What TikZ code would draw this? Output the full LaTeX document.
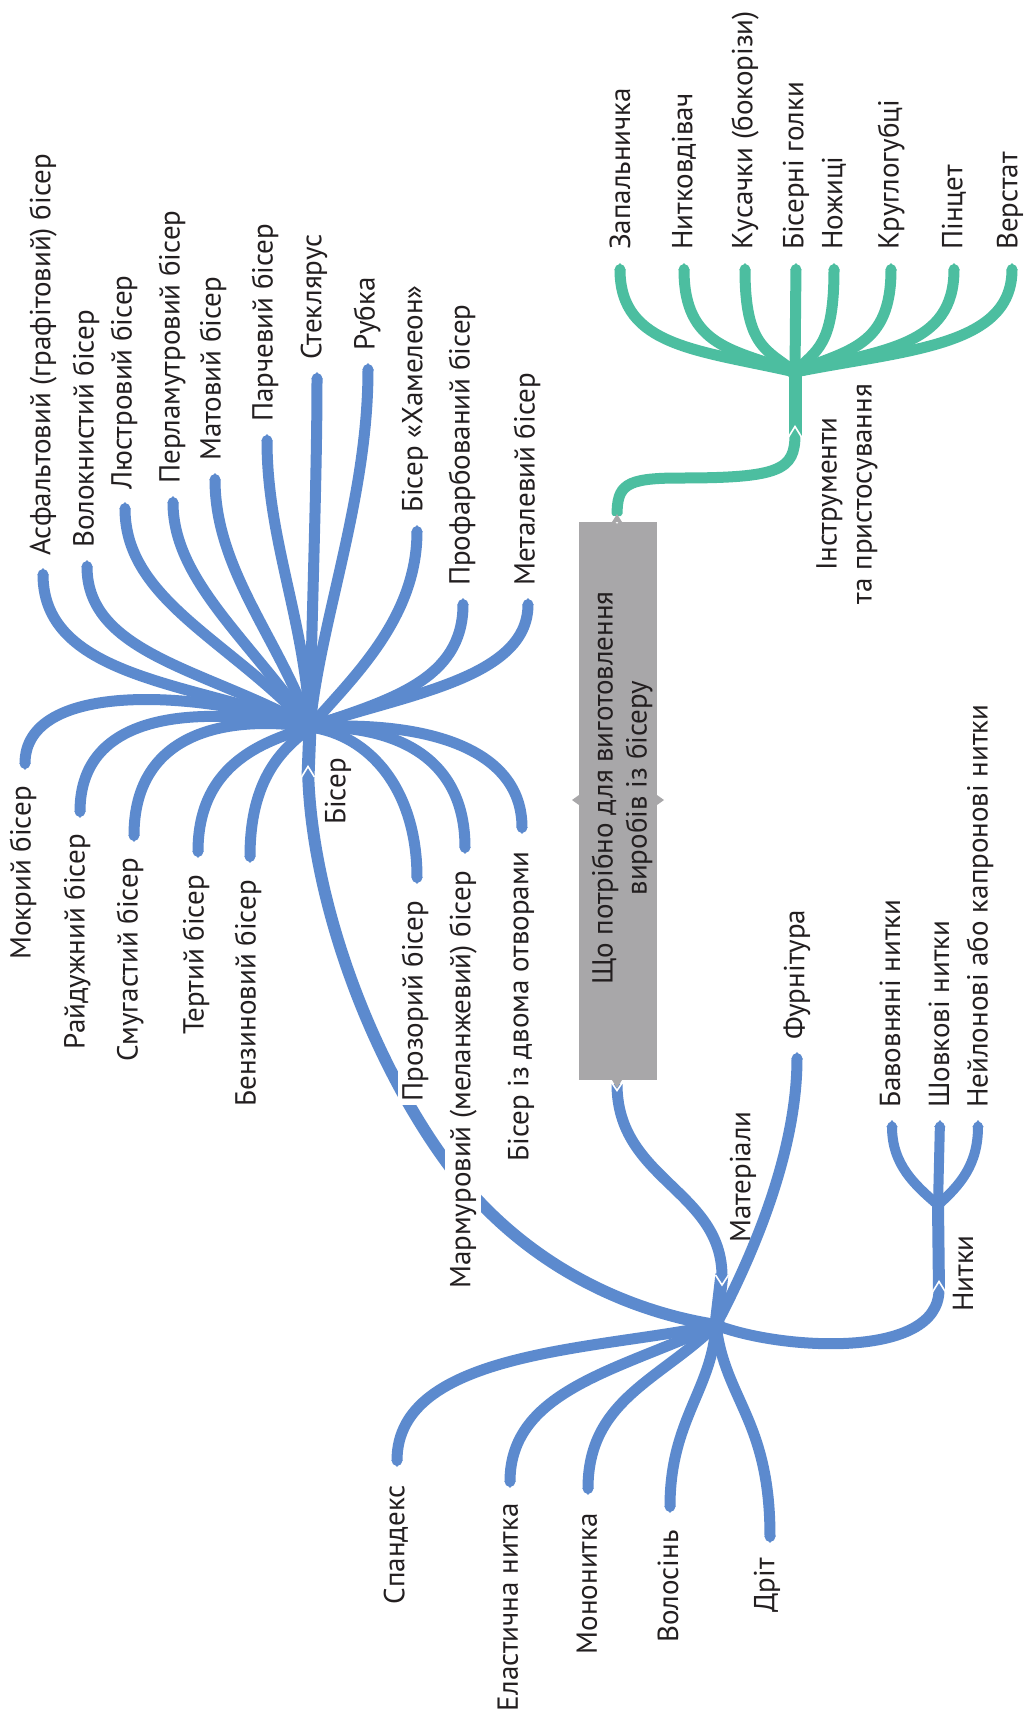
\documentclass[tikz,border=0pt]{standalone}
\usepackage{fontspec}
\setmainfont{PT Sans}
\usetikzlibrary{arrows.meta}
\definecolor{mblue}{RGB}{92,138,206}
\definecolor{mteal}{RGB}{76,190,160}
\definecolor{mgray}{RGB}{168,167,169}
\definecolor{mtxt}{RGB}{35,31,32}
\begin{document}
\begin{tikzpicture}[x=1pt,y=-1pt,
  font=\fontsize{29}{35}\selectfont, text=mtxt,
  bb/.style={draw=mblue, line width=11pt, line cap=round, -{Triangle[length=7pt,width=11pt]}},
  tb/.style={draw=mteal, line width=11pt, line cap=round, -{Triangle[length=7pt,width=11pt]}},
  btrunk/.style={draw=mblue, line width=13pt},
  ttrunk/.style={draw=mteal, line width=13pt},
  labu/.style={rotate=90, anchor=west, inner sep=0pt},
  labd/.style={rotate=90, anchor=east, inner sep=0pt},
  labw/.style={rotate=90, anchor=east, inner sep=4pt, fill=white},
  notch/.style={draw=white, line width=1.6pt},
  gtip/.style={fill=mgray}
]
\fill[white] (0,0) rectangle (1028,1711);
\useasboundingbox (0,0) rectangle (1028,1711);

% ---------- central box ----------
\node[fill=mgray, rotate=90, minimum width=558pt, minimum height=78pt, inner sep=0pt] (box) at (618,801) {};
\node[rotate=90, align=center, inner sep=0pt, font=\fontsize{29}{34}\selectfont] (boxtxt) at (622,788)
  {Що потрібно для виготовлення\\виробів із бісеру};
\fill[gtip] (579,795) -- (572,800) -- (579,805) -- cycle;
\fill[gtip] (657,795) -- (664,800) -- (657,805) -- cycle;
\coordinate (boxT) at (617,516);
\coordinate (boxB) at (617,1084);

% ---------- tools (teal) ----------
\coordinate (T) at (795,372);
\coordinate (TN) at (795,428);
\draw[ttrunk] (795,436) -- (T);
\fill[mteal] (T) circle (8pt);
\draw[tb, line cap=butt] (boxT) .. controls (617,485) and (625,478) .. (680,478) .. controls (780,478) and (795,470) .. (TN);
\draw[notch] (788.5,437) -- (795,426.5) -- (801.5,437);
\draw[notch] (610.5,514) -- (617,522.5) -- (623.5,514);
\fill[gtip] (612,522) -- (617,514) -- (622,522) -- cycle;

\coordinate (t1) at (620,263);
\coordinate (t2) at (684,263);
\coordinate (t3) at (745,263);
\coordinate (t4) at (796,263);
\coordinate (t5) at (834,263);
\coordinate (t6) at (891,263);
\coordinate (t7) at (954,263);
\coordinate (t8) at (1012,263);
\draw[tb] (T) .. controls (699,350) and (620,347) .. (t1);
\draw[tb] (T) .. controls (734,350) and (684,347) .. (t2);
\draw[tb] (T) .. controls (767,350) and (745,347) .. (t3);
\draw[tb] (T) -- (t4);
\draw[tb] (T) .. controls (816,350) and (834,347) .. (t5);
\draw[tb] (T) .. controls (848,350) and (891,347) .. (t6);
\draw[tb] (T) .. controls (882,350) and (954,347) .. (t7);
\draw[tb] (T) .. controls (905,350) and (1012,347) .. (t8);
\node[labu] (lt1) at (620,250) {Запальничка};
\node[labu] (lt2) at (684,250) {Нитковдівач};
\node[labu] (lt3) at (745,250) {Кусачки (бокорізи)};
\node[labu] (lt4) at (796,250) {Бісерні голки};
\node[labu] (lt5) at (834,250) {Ножиці};
\node[labu] (lt6) at (891,250) {Круглогубці};
\node[labu] (lt7) at (954,250) {Пінцет};
\node[labu] (lt8) at (1010,250) {Верстат};
\node[rotate=90, align=center, inner sep=0pt] (ltools) at (847,494) {Інструменти\\та пристосування};

% ---------- materials hub ----------
\coordinate (MH) at (716,1325);
\coordinate (MN) at (722,1283);
\draw[btrunk] (MH) -- (722,1274);
\fill[mblue] (MH) circle (9pt);
\draw[bb, line cap=butt] (boxB) .. controls (617,1180) and (722,1190) .. (MN);
\draw[notch] (715.5,1275) -- (722,1285) -- (728.5,1275);
\draw[notch] (610.5,1081) -- (617,1090.5) -- (623.5,1081);
\fill[gtip] (612,1080) -- (617,1088) -- (622,1080) -- cycle;
\node[labu] (lmat) at (743,1243) {Матеріали};

\coordinate (mf) at (797,1052);
\draw[bb] (MH) .. controls (745,1270) and (797,1160) .. (mf);
\node[labu] (lfur) at (797,1040) {Фурнітура};

\coordinate (m1) at (397,1467);
\coordinate (m2) at (510,1488);
\coordinate (m3) at (588,1495);
\coordinate (m4) at (670,1513);
\coordinate (m5) at (770,1543);
\draw[bb] (MH) .. controls (600,1350) and (397,1350) .. (m1);
\draw[bb] (MH) .. controls (620,1370) and (510,1390) .. (m2);
\draw[bb] (MH) .. controls (660,1380) and (588,1400) .. (m3);
\draw[bb] (MH) .. controls (712,1390) and (670,1420) .. (m4);
\draw[bb] (MH) .. controls (725,1400) and (770,1420) .. (m5);
\node[labd] (lm1) at (396,1485) {Спандекс};
\node[labd] (lm2) at (508,1503) {Еластична нитка};
\node[labd] (lm3) at (587,1513) {Мононитка};
\node[labd] (lm4) at (668,1530) {Волосінь};
\node[labd] (lm5) at (767,1558) {Дріт};

% ---------- threads ----------
\coordinate (NJ) at (938,1205);
\coordinate (NN) at (939,1283);
\draw[btrunk, line width=12pt] (939,1292) -- (NJ);
\draw[bb, line cap=butt] (MH) .. controls (780,1350) and (939,1360) .. (NN);
\draw[notch] (932.5,1292) -- (939,1281.5) -- (945.5,1292);
\node[labu] (lnit) at (963,1312) {Нитки};
\coordinate (n1) at (892,1120);
\coordinate (n2) at (940,1120);
\coordinate (n3) at (978,1120);
\draw[bb, line width=10pt] (NJ) .. controls (915,1185) and (892,1165) .. (n1);
\draw[bb, line width=10pt] (NJ) -- (n2);
\draw[bb, line width=10pt] (NJ) .. controls (960,1185) and (978,1165) .. (n3);
\node[labu] (ln1) at (890,1108) {Бавовняні нитки};
\node[labu] (ln2) at (939,1108) {Шовкові нитки};
\node[labu] (ln3) at (980,1108) {Нейлонові або капронові нитки};

% ---------- beads ----------
\coordinate (BH) at (310,727);
\coordinate (BN) at (308,768);
\draw[btrunk] (BH) -- (308,777);
\fill[mblue] (BH) circle (9pt);
\draw[bb, line width=12pt, line cap=butt, -{Triangle[length=7pt,width=12pt]}] (MH) .. controls (620,1310) and (520,1260) .. (450,1167) .. controls (370,1060) and (312,900) .. (BN);
\draw[notch] (301.5,777) -- (308,766.5) -- (314.5,777);
\node[labu] (lbis) at (338,825) {Бісер};

\coordinate (a1) at (43,568);
\coordinate (a2) at (87,560);
\coordinate (a3) at (125,502);
\coordinate (a4) at (173,496);
\coordinate (a5) at (215,473);
\coordinate (a6) at (267,434);
\coordinate (a7) at (317,372);
\coordinate (a8) at (368,363);
\coordinate (a9) at (417,525);
\coordinate (a10) at (463,598);
\coordinate (a11) at (528,598);
\draw[bb] (BH) .. controls (200,683) and (43,680) .. (a1);
\draw[bb] (BH) .. controls (210,670) and (87,655) .. (a2);
\draw[bb] (BH) .. controls (230,640) and (125,600) .. (a3);
\draw[bb] (BH) .. controls (250,640) and (173,580) .. (a4);
\draw[bb] (BH) .. controls (280,640) and (215,570) .. (a5);
\draw[bb] (BH) .. controls (305,620) and (267,540) .. (a6);
\draw[bb] (BH) .. controls (312,600) and (317,480) .. (a7);
\draw[bb] (BH) .. controls (320,620) and (368,500) .. (a8);
\draw[bb] (BH) .. controls (350,680) and (417,620) .. (a9);
\draw[bb] (BH) .. controls (390,700) and (463,680) .. (a10);
\draw[bb] (BH) .. controls (400,695) and (528,680) .. (a11);
\node[labu] (la1) at (43,556) {Асфальтовий (графітовий) бісер};
\node[labu] (la2) at (86,548) {Волокнистий бісер};
\node[labu] (la3) at (124,490) {Люстровий бісер};
\node[labu] (la4) at (172,484) {Перламутровий бісер};
\node[labu] (la5) at (213,461) {Матовий бісер};
\node[labu] (la6) at (265,422) {Парчевий бісер};
\node[labu] (la7) at (314,360) {Стеклярус};
\node[labu] (la8) at (367,351) {Рубка};
\node[labu] (la9) at (415,513) {Бісер «Хамелеон»};
\node[labu] (la10) at (462,586) {Профарбований бісер};
\node[labu] (la11) at (527,586) {Металевий бісер};

\coordinate (b1) at (25,770);
\coordinate (b2) at (80,818);
\coordinate (b3) at (134,842);
\coordinate (b4) at (198,858);
\coordinate (b5) at (250,863);
\coordinate (b6) at (417,884);
\coordinate (b7) at (465,854);
\coordinate (b8) at (522,834);
\draw[bb] (BH) .. controls (200,690) and (25,680) .. (b1);
\draw[bb] (BH) .. controls (200,705) and (80,710) .. (b2);
\draw[bb] (BH) .. controls (230,715) and (134,730) .. (b3);
\draw[bb] (BH) .. controls (270,740) and (198,760) .. (b4);
\draw[bb] (BH) .. controls (290,745) and (250,770) .. (b5);
\draw[bb] (BH) .. controls (370,735) and (417,790) .. (b6);
\draw[bb] (BH) .. controls (400,725) and (465,760) .. (b7);
\draw[bb] (BH) .. controls (430,720) and (522,750) .. (b8);
\node[labd] (lb1) at (23,786) {Мокрий бісер};
\node[labd] (lb2) at (77,834) {Райдужний бісер};
\node[labd] (lb3) at (130,858) {Смугастий бісер};
\node[labd] (lb4) at (196,875) {Тертий бісер};
\node[labd] (lb5) at (248,880) {Бензиновий бісер};
\node[labw] (lb6) at (415,897) {Прозорий бісер};
\node[labw] (lb7) at (463,867) {Мармуровий (меланжевий) бісер};
\node[labd] (lb8) at (521,851) {Бісер із двома отворами};
\end{tikzpicture}
\end{document}
